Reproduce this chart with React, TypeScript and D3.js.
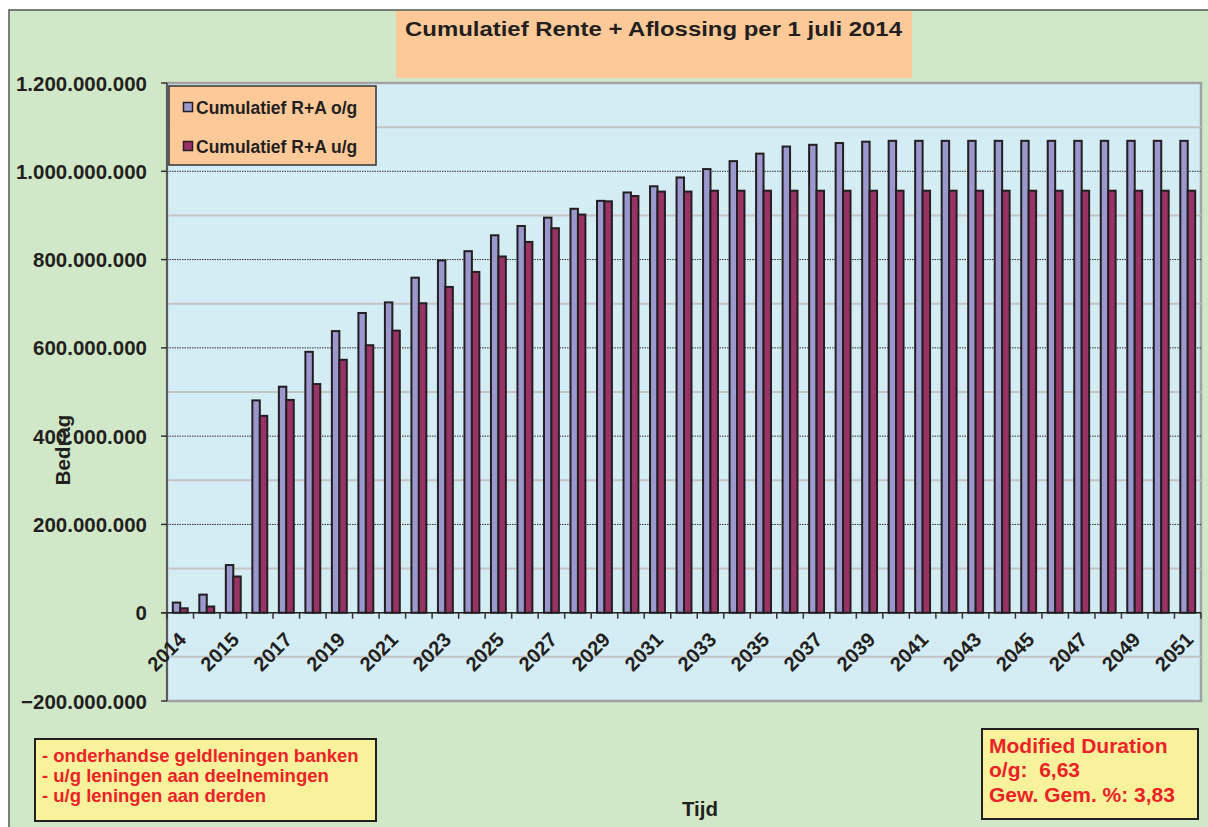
import React, { useRef, useEffect } from "react";
import * as d3 from "d3";

// periods on the category axis (only every second one gets a label)
const periods = [
  "2014", "2014", "2015", "2016", "2017", "2018", "2019", "2020", "2021", "2022",
  "2023", "2024", "2025", "2026", "2027", "2028", "2029", "2030", "2031", "2032",
  "2033", "2034", "2035", "2036", "2037", "2038", "2039", "2040", "2041", "2042",
  "2043", "2044", "2045", "2046", "2047", "2048", "2049", "2050", "2051",
];

// cumulative interest + repayment, in millions
const cumOG = [
  23, 41, 108, 481, 512, 591, 638, 679, 703, 759,
  798, 819, 855, 876, 895, 915, 933, 952, 966, 986,
  1005, 1023, 1040, 1056, 1060, 1064, 1067, 1069, 1069, 1069,
  1069, 1069, 1069, 1069, 1069, 1069, 1069, 1069, 1069,
];
const cumUG = [
  10, 14, 82, 446, 482, 518, 573, 606, 639, 701,
  738, 772, 807, 840, 871, 902, 932, 944, 954, 954,
  956, 956, 956, 956, 956, 956, 956, 956, 956, 956,
  956, 956, 956, 956, 956, 956, 956, 956, 956,
];

const seriesNames = ["Cumulatief R+A o/g", "Cumulatief R+A u/g"];
const seriesColors = ["#9a98cc", "#993366"];
const yTicks = [-200, 0, 200, 400, 600, 800, 1000, 1200];

const titleText = "Cumulatief Rente + Aflossing per 1 juli 2014";
const notes = [
  "- onderhandse geldleningen banken",
  "- u/g leningen aan deelnemingen",
  "- u/g leningen aan derden",
];
const durationLines = ["Modified Duration", "o/g:  6,63", "Gew. Gem. %: 3,83"];

const W = 1208;
const H = 827;
const FONT = "'Liberation Sans', Arial, sans-serif";

export default function App() {
  const svgRef = useRef<SVGSVGElement>(null);

  useEffect(() => {
    const svg = d3.select(svgRef.current);
    svg.selectAll("*").remove();

    const left = 167, right = 1201, top = 83, bottom = 701;

    const x = d3.scaleBand<number>().domain(d3.range(periods.length)).range([left, right]);
    const inner = d3
      .scaleBand<number>()
      .domain([0, 1])
      .range([0, x.bandwidth()])
      .paddingOuter(0.78);
    const y = d3.scaleLinear().domain([-200, 1200]).range([bottom, top]);

    const nl = d3.formatLocale({ decimal: ",", thousands: ".", grouping: [3], currency: ["€", ""] });
    const fmt = nl.format(",d");

    // outer chart area
    svg.append("rect").attr("width", W).attr("height", H).attr("fill", "#fff");
    svg
      .append("rect")
      .attr("x", 9)
      .attr("y", 10)
      .attr("width", W + 20)
      .attr("height", H + 20)
      .attr("fill", "#d1e8c8")
      .attr("stroke", "#555")
      .attr("stroke-width", 1.5);

    // title
    svg
      .append("rect")
      .attr("x", 396)
      .attr("y", 11)
      .attr("width", 516)
      .attr("height", 67)
      .attr("fill", "#fdc998");
    svg
      .append("text")
      .attr("transform", "translate(653.5,36) scale(1.14,1)")
      .attr("text-anchor", "middle")
      .attr("font-family", FONT)
      .attr("font-weight", "bold")
      .attr("font-size", 21)
      .attr("fill", "#231f20")
      .text(titleText);

    // plot area
    svg
      .append("rect")
      .attr("x", left)
      .attr("y", top)
      .attr("width", right - left)
      .attr("height", bottom - top)
      .attr("fill", "#d4ecf3")
      .attr("stroke", "#a2a2a2")
      .attr("stroke-width", 2.5);

    // minor gridlines (solid grey)
    svg
      .append("g")
      .selectAll("line")
      .data(d3.range(-100, 1200, 200))
      .join("line")
      .attr("x1", left)
      .attr("x2", right)
      .attr("y1", (d) => y(d))
      .attr("y2", (d) => y(d))
      .attr("stroke", "#c3c3c3")
      .attr("stroke-width", 2);

    // major gridlines (dotted)
    svg
      .append("g")
      .selectAll("line")
      .data(yTicks.filter((d) => d > 0 && d < 1200))
      .join("line")
      .attr("x1", left)
      .attr("x2", right)
      .attr("y1", (d) => y(d))
      .attr("y2", (d) => y(d))
      .attr("stroke", "#333")
      .attr("stroke-width", 1)
      .attr("stroke-dasharray", "1.5,1");

    // bars
    const series = [cumOG, cumUG];
    series.forEach((vals, s) => {
      svg
        .append("g")
        .selectAll("rect")
        .data(vals)
        .join("rect")
        .attr("x", (d, i) => (x(i) as number) + (inner(s) as number))
        .attr("y", (d) => y(d))
        .attr("width", inner.bandwidth())
        .attr("height", (d) => y(0) - y(d))
        .attr("fill", seriesColors[s])
        .attr("stroke", "#231f20")
        .attr("stroke-width", 2);
    });

    // axes
    svg
      .append("line")
      .attr("x1", left)
      .attr("x2", left)
      .attr("y1", top)
      .attr("y2", bottom)
      .attr("stroke", "#5a5a5a")
      .attr("stroke-width", 2);
    svg
      .append("line")
      .attr("x1", left - 6)
      .attr("x2", right)
      .attr("y1", y(0))
      .attr("y2", y(0))
      .attr("stroke", "#231f20")
      .attr("stroke-width", 1.5);

    const yAxis = svg.append("g");
    yAxis
      .selectAll("line")
      .data(yTicks)
      .join("line")
      .attr("x1", left - 6)
      .attr("x2", left)
      .attr("y1", (d) => y(d))
      .attr("y2", (d) => y(d))
      .attr("stroke", "#333")
      .attr("stroke-width", 1.5);
    yAxis
      .selectAll("text")
      .data(yTicks)
      .join("text")
      .attr("x", 147)
      .attr("y", (d) => y(d) + 7.5)
      .attr("text-anchor", "end")
      .attr("font-family", FONT)
      .attr("font-weight", "bold")
      .attr("font-size", 20.5)
      .attr("fill", "#231f20")
      .text((d) => fmt(d * 1e6));

    const xAxis = svg.append("g");
    xAxis
      .selectAll("line")
      .data(d3.range(periods.length + 1))
      .join("line")
      .attr("x1", (i) => left + i * x.step())
      .attr("x2", (i) => left + i * x.step())
      .attr("y1", y(0))
      .attr("y2", y(0) + 6)
      .attr("stroke", "#333")
      .attr("stroke-width", 1.5);
    xAxis
      .selectAll("text")
      .data(periods.map((p, i) => ({ p, i })).filter((d) => d.i % 2 === 0))
      .join("text")
      .attr("transform", (d) => {
        const cx = (x(d.i) as number) + x.bandwidth() / 2;
        return `translate(${cx + 7},641) rotate(-45)`;
      })
      .attr("text-anchor", "end")
      .attr("font-family", FONT)
      .attr("font-weight", "bold")
      .attr("font-size", 20)
      .attr("fill", "#231f20")
      .text((d) => d.p);

    // axis titles
    svg
      .append("text")
      .attr("transform", "translate(70,450) rotate(-90)")
      .attr("text-anchor", "middle")
      .attr("font-family", FONT)
      .attr("font-weight", "bold")
      .attr("font-size", 20.5)
      .attr("fill", "#231f20")
      .text("Bedrag");
    svg
      .append("text")
      .attr("x", 700)
      .attr("y", 816)
      .attr("text-anchor", "middle")
      .attr("font-family", FONT)
      .attr("font-weight", "bold")
      .attr("font-size", 20.5)
      .attr("fill", "#231f20")
      .text("Tijd");

    // legend
    const lg = svg.append("g");
    lg.append("rect")
      .attr("x", 169)
      .attr("y", 86)
      .attr("width", 207)
      .attr("height", 79)
      .attr("fill", "#fdc998")
      .attr("stroke", "#333")
      .attr("stroke-width", 1.5);
    seriesNames.forEach((name, i) => {
      const cy = 107 + i * 39;
      lg.append("rect")
        .attr("x", 183.5)
        .attr("y", cy - 4.5)
        .attr("width", 9)
        .attr("height", 9)
        .attr("fill", seriesColors[i])
        .attr("stroke", "#231f20")
        .attr("stroke-width", 1.5);
      lg.append("text")
        .attr("x", 196)
        .attr("y", cy + 6.5)
        .attr("font-family", FONT)
        .attr("font-weight", "bold")
        .attr("font-size", 17.5)
        .attr("fill", "#231f20")
        .text(name);
    });

    // notes box
    const nb = svg.append("g");
    nb.append("rect")
      .attr("x", 35)
      .attr("y", 739)
      .attr("width", 341)
      .attr("height", 82)
      .attr("fill", "#f9f29c")
      .attr("stroke", "#231f20")
      .attr("stroke-width", 2);
    nb.selectAll("text")
      .data(notes)
      .join("text")
      .attr("x", 42)
      .attr("y", (d, i) => 762 + i * 20)
      .attr("font-family", FONT)
      .attr("font-weight", "bold")
      .attr("font-size", 18.5)
      .attr("fill", "#ec2227")
      .text((d) => d);

    // duration box
    const db = svg.append("g");
    db.append("rect")
      .attr("x", 982)
      .attr("y", 729)
      .attr("width", 216)
      .attr("height", 90)
      .attr("fill", "#f9f29c")
      .attr("stroke", "#231f20")
      .attr("stroke-width", 2);
    db.selectAll("text")
      .data(durationLines)
      .join("text")
      .attr("x", 989)
      .attr("y", (d, i) => 753 + i * 24.3)
      .attr("font-family", FONT)
      .attr("font-weight", "bold")
      .attr("font-size", 21)
      .attr("fill", "#ec2227")
      .style("white-space", "pre")
      .text((d) => d);
  }, []);

  return (
    <svg
      ref={svgRef}
      width={W}
      height={H}
      style={{ position: "absolute", left: 0, top: 0, display: "block" }}
    />
  );
}
